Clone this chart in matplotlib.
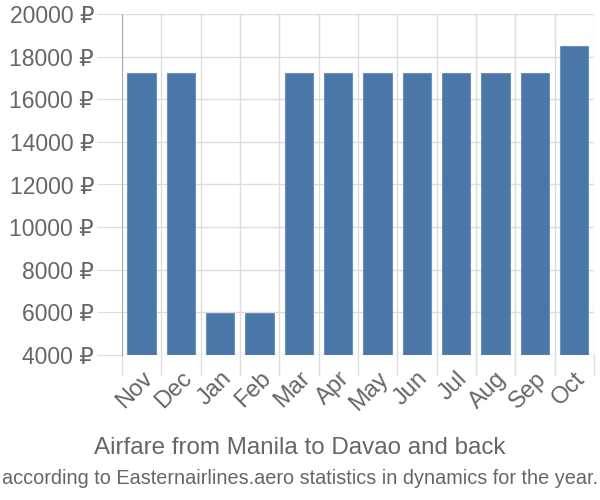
import matplotlib.pyplot as plt
import numpy as np

plt.rcParams['font.family'] = ['Liberation Sans', 'DejaVu Sans']

months = ['Nov', 'Dec', 'Jan', 'Feb', 'Mar', 'Apr', 'May', 'Jun', 'Jul', 'Aug', 'Sep', 'Oct']
prices = [17230, 17230, 5960, 5960, 17230, 17230, 17230, 17230, 17230, 17230, 17230, 18500]
yticks = list(range(4000, 20001, 2000))

fig = plt.figure(figsize=(6, 5), dpi=100)
ax = fig.add_axes([0.203, 0.29, 0.787, 0.682])

x = np.arange(len(months))
ax.bar(x, prices, width=0.72, bottom=0, color='#4a76a8', edgecolor='#6b90bb', linewidth=0.8, zorder=3)

ax.set_ylim(4000, 20000)
ax.set_xlim(-0.5, len(months) - 0.5)
ax.set_yticks(yticks)
ax.set_yticklabels([f'{v} ₽' for v in yticks], fontsize=16.5, color='#666666')
ax.set_xticks(x)
ax.set_xticklabels(months, rotation=45, ha='right', rotation_mode='anchor', fontsize=17, color='#666666')

# vertical grid at category boundaries
for b in np.arange(-0.5, len(months), 1.0):
    ax.axvline(b, color='#dddddd', lw=1, zorder=1)
    ax.plot([b, b], [0, -0.06], transform=ax.get_xaxis_transform(), color='#dddddd', lw=1, clip_on=False)
ax.grid(axis='y', color='#dddddd', lw=1, zorder=1)
ax.tick_params(axis='y', length=18, color='#dddddd', pad=2)
ax.tick_params(axis='x', length=0, pad=9)

for s in ['top', 'right', 'bottom']:
    ax.spines[s].set_visible(False)
ax.spines['left'].set_color('#aaaaaa')
ax.spines['left'].set_zorder(4)

fig.text(0.5, 0.093, 'Airfare from Manila to Davao and back', ha='center', fontsize=17.4, color='#666666')
fig.text(0.5, 0.033, 'according to Easternairlines.aero statistics in dynamics for the year.', ha='center', fontsize=14.3, color='#666666')

fig.savefig('out.png', dpi=100)
